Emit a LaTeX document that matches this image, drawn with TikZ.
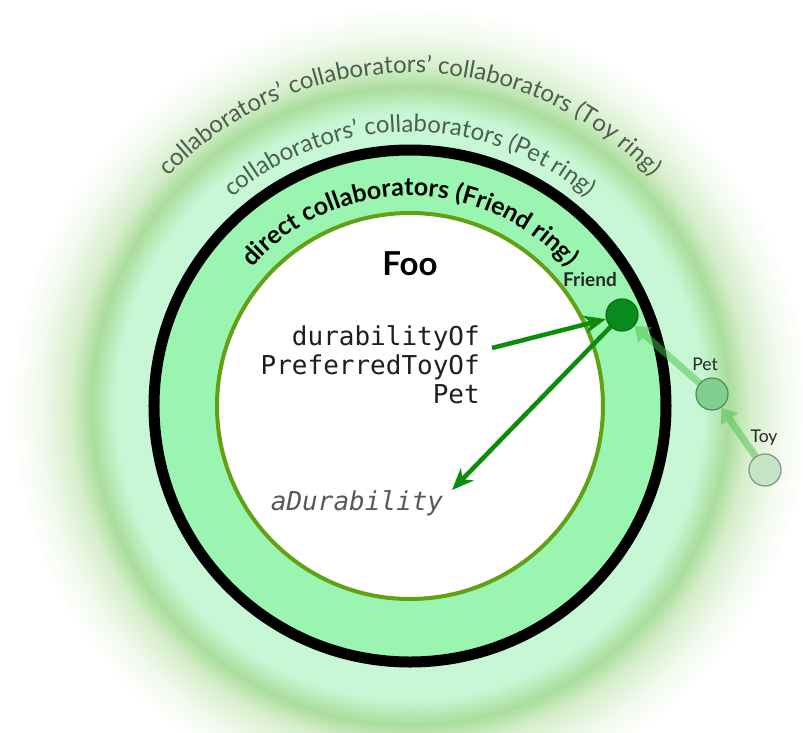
\documentclass[tikz,border=0pt]{standalone}
\usepackage{fontspec}
\setmainfont{Lato}
\setmonofont{DejaVu Sans Mono}
\usetikzlibrary{arrows.meta,positioning,decorations.text}

\definecolor{ringgreen}{HTML}{99F5B0}
\definecolor{palemint}{HTML}{C8F7D5}
\definecolor{bandgreen}{HTML}{AADD9C}
\definecolor{fadegreen}{HTML}{D6EFCB}
\definecolor{almostwhite}{HTML}{F2F9EE}
\definecolor{innerolive}{HTML}{64A014}
\definecolor{friendgreen}{HTML}{0A8A1C}
\definecolor{petgreen}{HTML}{80CF8E}
\definecolor{toygreen}{HTML}{C4E6C4}
\definecolor{ringtext}{HTML}{4B5F50}
\definecolor{callgreen}{HTML}{0C8C0C}
\definecolor{reachgreen}{HTML}{4DBF4D}

\pgfdeclareradialshading{glow}{\pgfpoint{0bp}{0bp}}{%
  color(0bp)=(palemint); color(16.3bp)=(palemint); color(17.7bp)=(bandgreen);
  color(18.9bp)=(fadegreen); color(20.6bp)=(almostwhite); color(22.2bp)=(white);
  color(50bp)=(white)}

\begin{document}
\begin{tikzpicture}[x=1pt,y=1pt]
\tikzstyle{obj}=[circle,minimum size=32pt,inner sep=0pt,line width=1.2pt]
\tikzstyle{lbl}=[inner sep=1pt,text=black!85]
\tikzstyle{code}=[inner sep=0pt,font=\fontsize{26}{29}\selectfont\ttfamily]
\tikzstyle{call}=[-{Stealth[length=22pt,width=18pt]},line width=4.5pt,callgreen]
\tikzstyle{reach}=[-{Triangle[length=14pt,width=20pt]},line width=7pt,reachgreen]
\tikzstyle{ringlabel}=[decorate,decoration={text along path,text align=center}]

\useasboundingbox (-410,-326) rectangle (393,406);
\path[shading=glow] (-450,-450) rectangle (450,450);
\draw[line width=11pt,fill=ringgreen] (0,0) circle (256);
\draw[line width=4pt,draw=innerolive,fill=white] (0,0) circle (193);

\path[ringlabel,decoration={text={|\fontsize{24}{24}\selectfont\color{ringtext}|collaborators' collaborators' collaborators (Toy ring)}}]
  (150:333) arc (150:30:333);
\path[ringlabel,decoration={text={|\fontsize{24}{24}\selectfont\color{ringtext}|collaborators' collaborators (Pet ring)}}]
  (150:274) arc (150:30:274);
\path[ringlabel,decoration={text={|\fontsize{25}{25}\selectfont\bfseries|direct collaborators (Friend ring)}}]
  (155:210) arc (155:25:210);

\node[font=\fontsize{33}{36}\selectfont\bfseries] (foo) at (0,142) {Foo};
\node[code,align=right,anchor=east,text=black!88] (expr) at (70,41) {durabilityOf\\PreferredToyOf\\Pet};
\node[code,font=\fontsize{26}{29}\selectfont\ttfamily\itshape,text=black!65] (adur) at (-53,-97) {aDurability};

\node[obj,fill=friendgreen,draw=friendgreen!80!black] (friend) at (212,91) {};
\node[obj,fill=petgreen,draw=black!35!petgreen] (pet) at (302,12) {};
\node[obj,fill=toygreen,draw=black!35!toygreen] (toy) at (355,-64) {};

\node[lbl,font=\fontsize{19}{19}\selectfont\bfseries,above=11pt of friend,xshift=-32pt] (friend_lbl) {Friend};
\node[lbl,font=\fontsize{17.5}{17.5}\selectfont,above=6pt of pet,xshift=-7pt] (pet_lbl) {Pet};
\node[lbl,font=\fontsize{17.5}{17.5}\selectfont,above=7pt of toy,xshift=-1pt] (toy_lbl) {Toy};

\coordinate (dur_end) at (82,58);
\coordinate (adur_tip) at (42,-84);

\begin{scope}[transparency group,opacity=0.5]
\path
  (pet) edge [reach] (friend)
  (toy) edge [reach] (pet);
\end{scope}

\path
  (dur_end) edge [call] (friend)
  (friend) edge [call] (adur_tip);
\end{tikzpicture}
\end{document}
